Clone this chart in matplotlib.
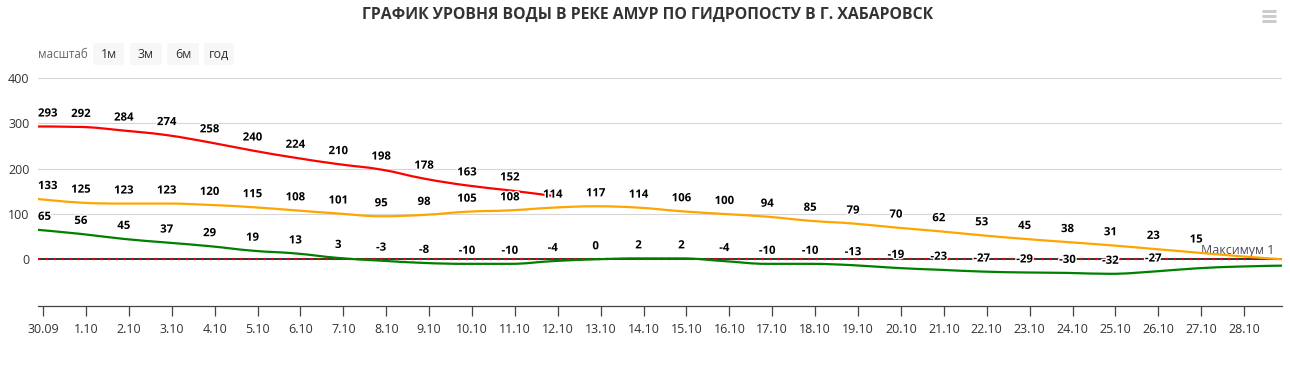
import numpy as np
import matplotlib.pyplot as plt
import matplotlib.patheffects as pe
from matplotlib.path import Path
from matplotlib.patches import PathPatch, FancyBboxPatch
from matplotlib.lines import Line2D

plt.rcParams['font.family'] = ['Open Sans', 'DejaVu Sans']

title = "ГРАФИК УРОВНЯ ВОДЫ В РЕКЕ АМУР ПО ГИДРОПОСТУ В Г. ХАБАРОВСК"
dates = ["30.09"] + [f"{d}.10" for d in range(1, 29)]

red_vals = [293, 292, 284, 274, 258, 240, 224, 210, 198, 178, 163, 152, 140]
orange_vals = [133, 125, 123, 123, 120, 115, 108, 101, 95, 98, 105, 108, 114, 117,
               114, 106, 100, 94, 85, 79, 70, 62, 53, 45, 38, 31, 23, 15, 7, 0]
green_vals = [65, 56, 45, 37, 29, 19, 13, 3, -3, -8, -10, -10, -4, 0, 2, 2, -4,
              -10, -10, -13, -19, -23, -27, -29, -30, -32, -27, -20, -16, -14]
# labels hidden by overlap in the original
red_shown = 12
orange_shown = 28
green_shown = 27
max_level = 1
max_label = "Максимум 1"

scale_label = "масштаб"
buttons = ["1м", "3м", "6м", "год"]


def spline(xs, ys):
    n = len(xs)
    lc = [(x, y) for x, y in zip(xs, ys)]
    rc = [(x, y) for x, y in zip(xs, ys)]
    sm, den = 1.5, 2.5
    for i in range(1, n - 1):
        x, y = xs[i], ys[i]
        lx, ly = xs[i - 1], ys[i - 1]
        nx_, ny = xs[i + 1], ys[i + 1]
        lcx = (sm * x + lx) / den
        lcy = (sm * y + ly) / den
        rcx = (sm * x + nx_) / den
        rcy = (sm * y + ny) / den
        if rcx != lcx:
            corr = ((rcy - lcy) * (rcx - x)) / (rcx - lcx) + y - rcy
            lcy += corr
            rcy += corr
        if lcy > ly and lcy > y:
            lcy = max(ly, y); rcy = 2 * y - lcy
        elif lcy < ly and lcy < y:
            lcy = min(ly, y); rcy = 2 * y - lcy
        if rcy > ny and rcy > y:
            rcy = max(ny, y); lcy = 2 * y - rcy
        elif rcy < ny and rcy < y:
            rcy = min(ny, y); lcy = 2 * y - rcy
        lc[i] = (lcx, lcy)
        rc[i] = (rcx, rcy)
    verts = [(xs[0], ys[0])]
    codes = [Path.MOVETO]
    for i in range(1, n):
        verts += [rc[i - 1], lc[i], (xs[i], ys[i])]
        codes += [Path.CURVE4] * 3
    return Path(verts, codes)


fig = plt.figure(figsize=(12.9, 3.71), dpi=100)
W, H = 1290, 371
ax = fig.add_axes([38 / W, 1 - 306 / H, (1282 - 38) / W, (306 - 78) / H])

ax.set_xlim(0, len(orange_vals) - 1)
ax.set_ylim(-103, 400)

for g in [100, 200, 300, 400]:
    ax.axhline(g, color='#d6d6d6', lw=0.8, zorder=1)

ax.axhline(max_level, color='black', lw=1.1, zorder=2)
ax.axhline(max_level, color='red', lw=1.6, ls=(0, (1, 2.5)), zorder=2.1)
ax.text(len(orange_vals) - 1.17, max_level + 4, max_label, ha='right', va='bottom',
        fontsize=9, color='#4a4a5a', zorder=3)

series = [(red_vals, '#ff0000', red_shown),
          (orange_vals, '#ffa500', orange_shown),
          (green_vals, '#008000', green_shown)]
outline = [pe.withStroke(linewidth=2, foreground='white')]
for vals, col, shown in series:
    xs = list(range(len(vals)))
    ax.add_patch(PathPatch(spline(xs, vals), fill=False, edgecolor=col, lw=1.6,
                           zorder=4, capstyle='round'))
    for i in range(shown):
        ha = 'left' if i == 0 else 'center'
        ax.annotate(str(vals[i]), (xs[i], vals[i]), xytext=(0, 9),
                    textcoords='offset points', ha=ha, va='center',
                    fontsize=8.2, fontweight='bold', color='black',
                    path_effects=outline, zorder=5, annotation_clip=False)

ticks = np.arange(len(dates)) + 0.117
ax.set_xticks(ticks)
ax.set_xticklabels(dates, fontsize=9, color='#333333')
ax.set_yticks([0, 100, 200, 300, 400])
ax.set_yticklabels(['0', '100', '200', '300', '400'], fontsize=9, color='#333333')
ax.tick_params(axis='x', length=7, width=0.9, color='#444444', pad=5)
ax.tick_params(axis='y', length=0, pad=6)
for s in ['top', 'right', 'left']:
    ax.spines[s].set_visible(False)
ax.spines['bottom'].set_color('#444444')
ax.spines['bottom'].set_linewidth(0.9)

fig.text(648 / W, 1 - 15 / H, title, ha='center', va='center', fontsize=11.3,
         fontweight='bold', color='#333333')

fig.text(38 / W, 1 - 54 / H, scale_label, ha='left', va='center', fontsize=8.4,
         color='#666666')
bx = [93, 130, 167, 204]
bw = [31, 32, 32, 30]
for x0, w, b in zip(bx, bw, buttons):
    fig.add_artist(FancyBboxPatch((x0 / W, 1 - 65 / H), w / W, 22 / H,
                                  boxstyle='round,pad=0,rounding_size=0.003',
                                  transform=fig.transFigure, facecolor='#f7f7f7',
                                  edgecolor='none'))
    fig.text((x0 + w / 2) / W, 1 - 54 / H, b, ha='center', va='center',
             fontsize=9, color='#333333')

for yy in [11, 16, 21]:
    fig.add_artist(Line2D([1262 / W, 1276 / W], [1 - yy / H, 1 - yy / H],
                          transform=fig.transFigure, color='#cccccc', lw=2.2,
                          solid_capstyle='butt'))

fig.savefig('out.png', dpi=100)
